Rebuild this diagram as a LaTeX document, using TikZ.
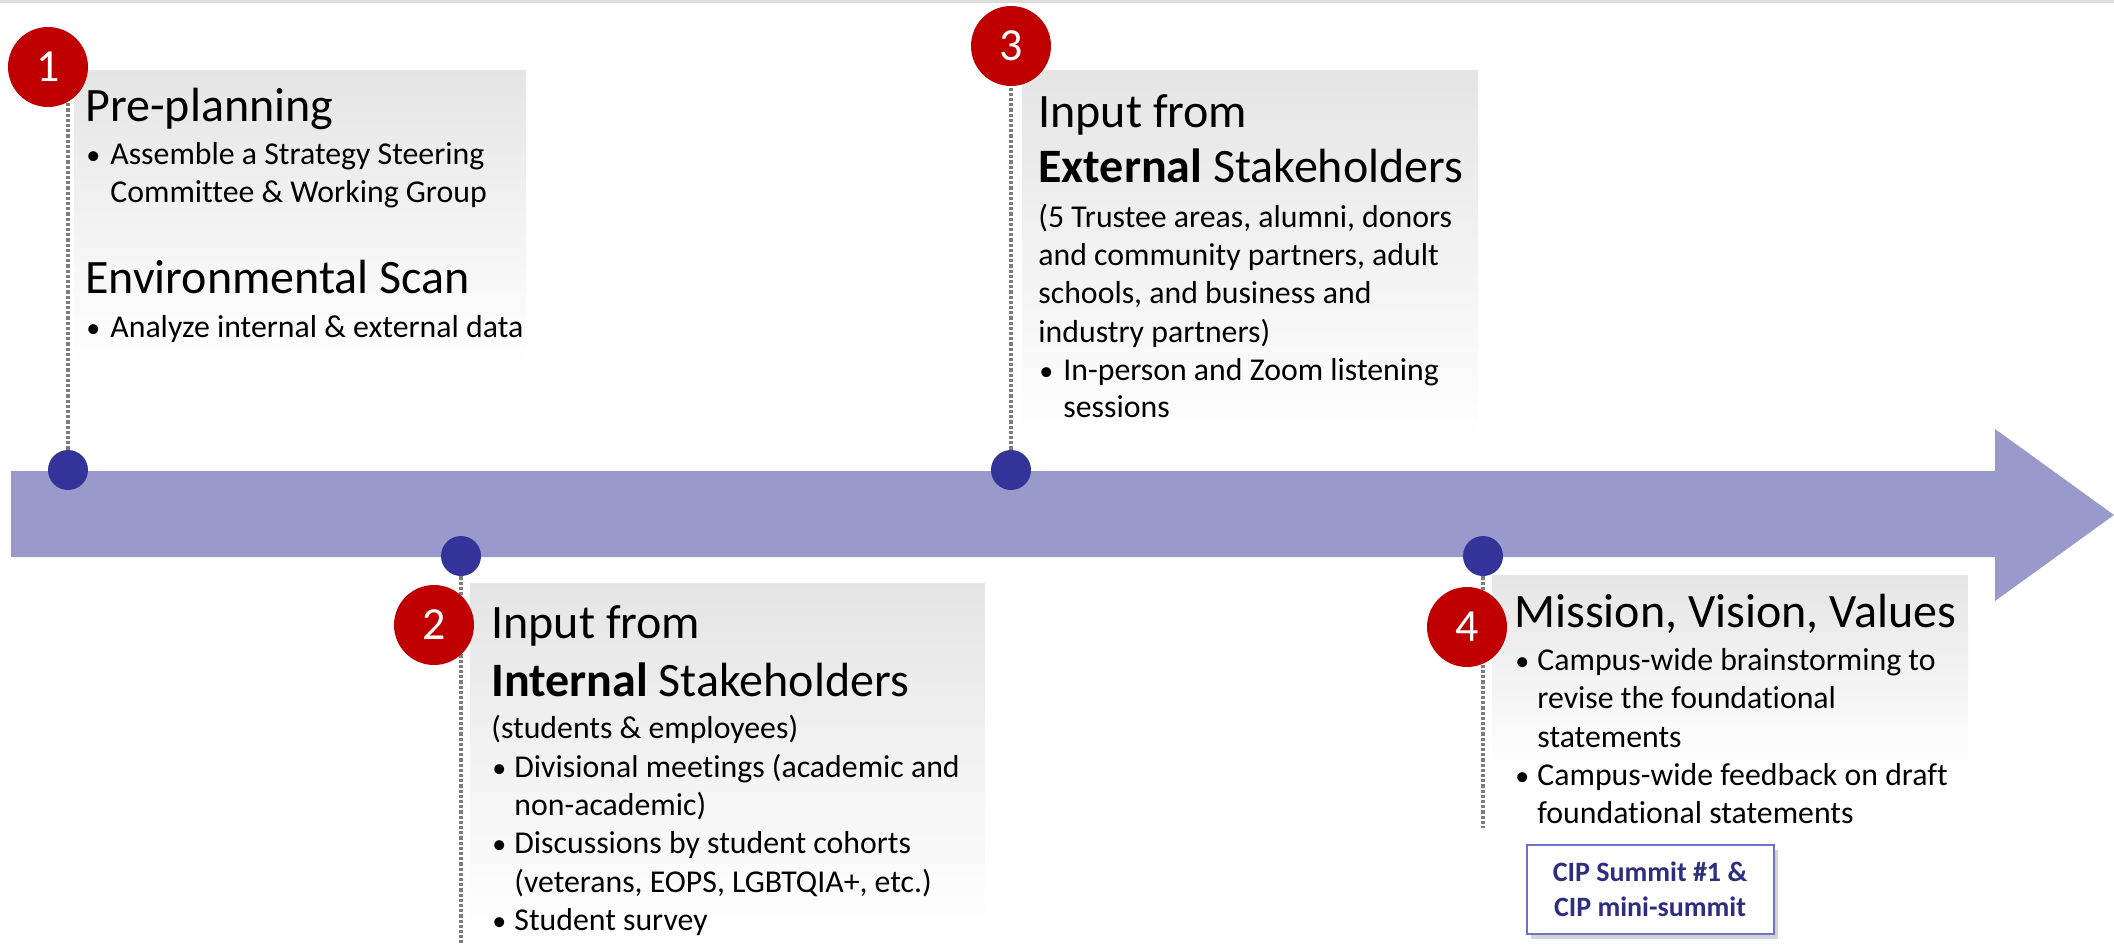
\documentclass[tikz,border=0pt]{standalone}
\usepackage{fontspec}
\setmainfont[Ligatures=NoCommon]{Carlito}
\usetikzlibrary{shadows}
\definecolor{arrowc}{RGB}{153,153,204}
\definecolor{dotc}{RGB}{51,51,153}
\definecolor{numc}{RGB}{192,0,0}
\definecolor{boxc}{RGB}{229,229,229}
\definecolor{cipc}{RGB}{46,46,128}
\definecolor{cipb}{RGB}{112,112,208}
\definecolor{linec}{RGB}{125,125,125}
\definecolor{topc}{RGB}{220,220,220}
\begin{document}
\begin{tikzpicture}[x=0.5pt,y=-0.5pt,
 ttl/.style={anchor=base west, inner sep=0, font=\fontsize{24}{28}\selectfont},
 bod/.style={anchor=base west, inner sep=0, font=\fontsize{15.9}{19}\selectfont},
 bul/.style={anchor=base west, inner sep=0, font=\fontsize{14}{16}\selectfont},
 num/.style={circle, fill=numc, text=white, minimum size=40pt, inner sep=0, font=\fontsize{23}{27}\selectfont},
 tdot/.style={circle, fill=dotc, minimum size=20pt, inner sep=0},
 link/.style={draw=linec, line width=1.8pt, dash pattern=on 1.6pt off 1pt},
 panel/.style={top color=boxc, bottom color=white, draw=none},
 cip/.style={draw=cipb, line width=1pt, fill=white, drop shadow={opacity=0.35, shadow xshift=2pt, shadow yshift=-2.5pt},
   minimum width=123.5pt, minimum height=44.5pt, align=center, text=cipc,
   font=\fontsize{14}{17.5}\selectfont\bfseries},
]
\useasboundingbox (0,0) rectangle (2114,947);
% top rule
\fill[topc] (0,0) rectangle (2114,3);
% timeline arrow
\fill[arrowc] (11,471) -- (1995,471) -- (1995,429) -- (2114,515) -- (1995,601) -- (1995,557) -- (11,557) -- cycle;
% panels
\shade[panel] (74,71) rectangle (526,365);
\shade[panel] (1022,71) rectangle (1478,440);
\shade[panel] (470,583) rectangle (985,935);
\shade[panel] (1492,575) rectangle (1968,770);
% anchor points
\coordinate (c1) at (48,67);
\coordinate (c3) at (1011,46);
\coordinate (c2) at (434,625);
\coordinate (c4) at (1467,627);
\coordinate (e2) at (461,943);
\coordinate (e4) at (1483,828);
% timeline dots
\node[tdot] (dot1) at (68,470) {};
\node[tdot] (dot3) at (1011,470) {};
\node[tdot] (dot2) at (461,556) {};
\node[tdot] (dot4) at (1483,556) {};
% dotted connectors
\draw[link] (dot1.north) -- (dot1 |- c1);
\draw[link] (dot3.north) -- (c3);
\draw[link] (dot2.south) -- (e2);
\draw[link] (dot4.south) -- (e4);
% number circles
\node[num] (n1) at (c1) {1};
\node[num] (n3) at (c3) {3};
\node[num] (n2) at (c2) {2};
\node[num] (n4) at (c4) {4};
% box 1
\node[ttl] (t1a) at (85,122) {Pre-planning};
\node[bul] (b1a) at (86,164) {•};
\node[bod] (t1b) at (110,164) {Assemble a Strategy Steering};
\node[bod] (t1c) at (110,202) {Committee \& Working Group};
\node[ttl] (t1d) at (85,293) {Environmental Scan};
\node[bul] (b1b) at (86,337) {•};
\node[bod] (t1e) at (110,337) {Analyze internal \& external data};
% box 3
\node[ttl] (t3a) at (1038,127) {Input from};
\node[ttl] (t3b) at (1038,183) {\textbf{External} Stakeholders};
\node[bod] (t3c) at (1038,227) {(5 Trustee areas, alumni, donors};
\node[bod] (t3d) at (1038,265) {and community partners, adult};
\node[bod] (t3e) at (1038,303) {schools, and business and};
\node[bod] (t3f) at (1038,342) {industry partners)};
\node[bul] (b3a) at (1039,380) {•};
\node[bod] (t3g) at (1063,380) {In-person and Zoom listening};
\node[bod] (t3h) at (1063,417) {sessions};
% box 2
\node[ttl] (t2a) at (491,638) {Input from};
\node[ttl] (t2b) at (491,696) {\textbf{Internal} Stakeholders};
\node[bod] (t2c) at (491,738) {(students \& employees)};
\node[bul] (b2a) at (492,777) {•};
\node[bod] (t2d) at (514,777) {Divisional meetings (academic and};
\node[bod] (t2e) at (514,815) {non-academic)};
\node[bul] (b2b) at (492,853) {•};
\node[bod] (t2f) at (514,853) {Discussions by student cohorts};
\node[bod] (t2g) at (514,892) {(veterans, EOPS, LGBTQIA+, etc.)};
\node[bul] (b2c) at (492,930) {•};
\node[bod] (t2h) at (514,930) {Student survey};
% box 4
\node[ttl] (t4a) at (1514,627) {Mission, Vision, Values};
\node[bul] (b4a) at (1515,670) {•};
\node[bod] (t4b) at (1537,670) {Campus-wide brainstorming to};
\node[bod] (t4c) at (1537,708) {revise the foundational};
\node[bod] (t4d) at (1537,747) {statements};
\node[bul] (b4b) at (1515,785) {•};
\node[bod] (t4e) at (1537,785) {Campus-wide feedback on draft};
\node[bod] (t4f) at (1537,823) {foundational statements};
% summit box
\node[cip] (cip) at (1650,889) {CIP Summit \#1 \&\\CIP mini-summit};
\end{tikzpicture}
\end{document}
